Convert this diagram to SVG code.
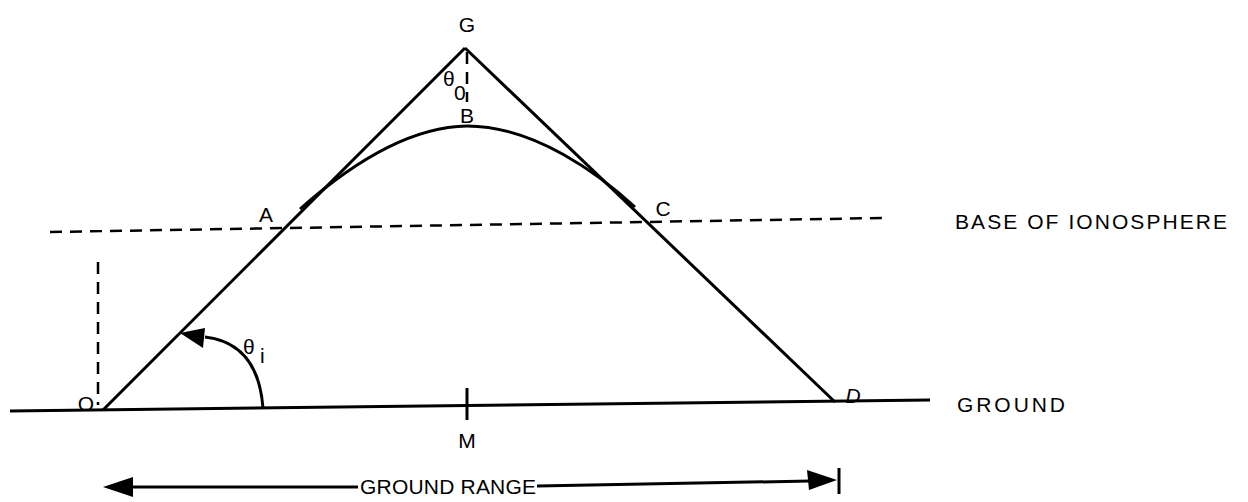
<svg xmlns="http://www.w3.org/2000/svg" width="1248" height="502" viewBox="0 0 1248 502">
<style>
.t{font-family:"Liberation Sans",Arial,sans-serif;font-size:21px;fill:#000}
.s{stroke:#000;fill:none;stroke-width:3}
.d{stroke:#000;fill:none;stroke-width:2.5;stroke-dasharray:12,8}
</style>
<rect width="1248" height="502" fill="#fff"/>
<g id="connectors">
<line class="s" x1="10" y1="411" x2="930" y2="400"/>
<line class="s" x1="103" y1="410" x2="465" y2="48"/>
<line class="s" x1="465" y1="48" x2="835" y2="402"/>
<path class="s" d="M300,209 C335,178 400,127 467,126 C535,126 600,175 635,207"/>
<line class="d" x1="467" y1="52" x2="467" y2="102"/>
<line class="d" x1="50" y1="232" x2="882" y2="218"/>
<line class="d" x1="98" y1="262" x2="98" y2="405"/>
<path class="s" stroke-width="2.5" d="M263,408 Q258,343 205,337"/>
<polygon points="180,333 205,328 203,348" fill="#000"/>
<line class="s" x1="467" y1="388" x2="467" y2="420"/>
<line class="s" stroke-width="2.5" x1="130" y1="487" x2="358" y2="487"/>
<line class="s" stroke-width="2.5" x1="537" y1="486" x2="810" y2="481"/>
<polygon points="103,487 133,477 133,497" fill="#000"/>
<polygon points="837,480 807,470 809,490" fill="#000"/>
<line class="s" x1="839" y1="468" x2="839" y2="494"/>
</g>
<g id="G"><text class="t" x="467" y="32" text-anchor="middle">G</text></g>
<g id="theta0"><text class="t" x="443" y="86">θ</text><text class="t" x="454" y="100" font-size="16">0</text></g>
<g id="B"><text class="t" x="467" y="123" text-anchor="middle">B</text></g>
<g id="A"><text class="t" x="266" y="222" text-anchor="middle">A</text></g>
<g id="C"><text class="t" x="663" y="216" text-anchor="middle">C</text></g>
<g id="base"><text class="t" x="955" y="229" textLength="272">BASE OF IONOSPHERE</text></g>
<g id="O"><text class="t" x="86" y="411" text-anchor="middle">O</text></g>
<g id="thetai"><text class="t" x="243" y="354">θ</text><text class="t" x="260" y="363" font-size="15">i</text></g>
<g id="D"><text class="t" x="853" y="403" text-anchor="middle" font-style="italic">D</text></g>
<g id="M"><text class="t" x="467" y="448" text-anchor="middle">M</text></g>
<g id="ground"><text class="t" x="957" y="412" textLength="108">GROUND</text></g>
<g id="range"><text class="t" x="360" y="494" textLength="176">GROUND RANGE</text></g>
</svg>
